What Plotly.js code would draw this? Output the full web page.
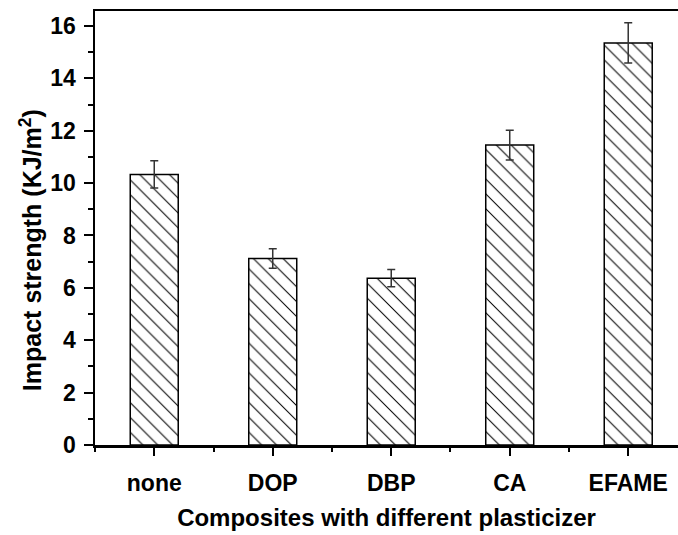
<!DOCTYPE html>
<html>
<head>
<meta charset="utf-8">
<script src="https://cdn.plot.ly/plotly-3.0.1.min.js"></script>
<style>
  html, body { margin: 0; padding: 0; background: #fff; overflow: hidden; }
  #chart { width: 678px; height: 535px; }
</style>
</head>
<body>
<div id="chart"></div>
<script>
// Impact strength of composites by plasticizer type
const plasticizers = ["none", "DOP", "DBP", "CA", "EFAME"];
const impactStrength = [10.33, 7.12, 6.37, 11.45, 15.35];
const impactError = [0.52, 0.37, 0.33, 0.57, 0.77];

const positions = plasticizers.map((_, i) => i);

const trace = {
  type: "bar",
  x: positions,
  y: impactStrength,
  width: 0.405,
  marker: {
    color: "#ffffff",
    line: { color: "#000000", width: 1.5 },
    pattern: { shape: "\\", fgcolor: "#000000", bgcolor: "#ffffff", size: 10.5, solidity: 0.1 }
  },
  error_y: {
    type: "data",
    array: impactError,
    visible: true,
    color: "#333333",
    thickness: 1.5,
    width: 4
  },
  hoverinfo: "skip"
};

const fontFamily = "Liberation Sans, Arial, sans-serif";

const layout = {
  width: 678,
  height: 535,
  margin: { l: 95, r: 0, t: 11, b: 90 },
  paper_bgcolor: "#ffffff",
  plot_bgcolor: "#ffffff",
  showlegend: false,
  font: { family: fontFamily, color: "#000000" },
  xaxis: {
    range: [-0.5, 4.42],
    tickmode: "array",
    tickvals: positions,
    ticktext: plasticizers.map(s => "<b>" + s + "</b>"),
    tickfont: { family: fontFamily, size: 23, color: "#000" },
    ticks: "outside",
    ticklen: 8,
    tickwidth: 2,
    tickcolor: "#000",
    ticklabelstandoff: 8,
    minor: { tickmode: "linear", tick0: 0.5, dtick: 1, ticks: "outside", ticklen: 4, tickwidth: 2, tickcolor: "#000" },
    showline: true,
    linecolor: "#000",
    linewidth: 2.5,
    mirror: true,
    showgrid: false,
    zeroline: false,
    title: {
      text: "<b>Composites with different plasticizer</b>",
      font: { family: fontFamily, size: 24, color: "#000" },
      standoff: 14
    }
  },
  yaxis: {
    range: [0, 16.57],
    tickmode: "linear",
    tick0: 0,
    dtick: 2,
    tickfont: { family: fontFamily, size: 23, color: "#000" },
    tickprefix: "<b>",
    ticksuffix: "</b>",
    ticks: "outside",
    ticklen: 9,
    tickwidth: 2,
    tickcolor: "#000",
    ticklabelstandoff: 3,
    minor: { tickmode: "linear", tick0: 1, dtick: 2, ticks: "outside", ticklen: 5, tickwidth: 2, tickcolor: "#000" },
    showline: true,
    linecolor: "#000",
    linewidth: 2.5,
    showgrid: false,
    zeroline: false
  },
  // Vertical axis label, set slightly below the plot's mid-height
  annotations: [{
    text: "<b>Impact strength (KJ/m<sup>2</sup>)</b>",
    font: { family: fontFamily, size: 25, color: "#000" },
    textangle: -90,
    xref: "paper",
    yref: "paper",
    x: 0,
    y: 0.449,
    xshift: -64,
    xanchor: "center",
    yanchor: "middle",
    showarrow: false
  }]
};

Plotly.newPlot("chart", [trace], layout, { staticPlot: true, displayModeBar: false });
</script>
</body>
</html>
